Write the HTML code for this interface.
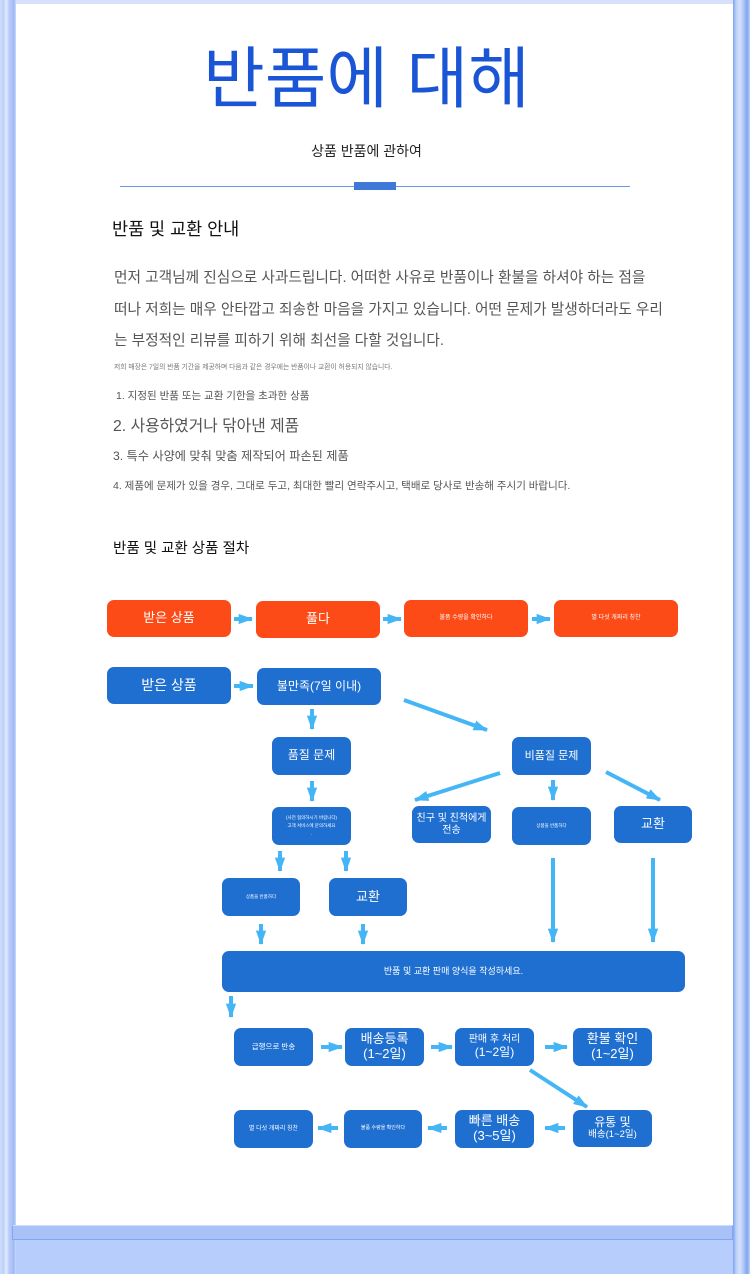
<!DOCTYPE html>
<html><head><meta charset="utf-8"><style>
*{margin:0;padding:0;box-sizing:border-box}
body{width:750px;height:1274px;position:relative;background:#b7cdfb;overflow:hidden;font-family:"Liberation Sans","Noto Sans CJK KR",sans-serif}
.a{position:absolute;white-space:nowrap}
.n{position:absolute;border-radius:7px;color:#fff;display:flex;flex-direction:column;align-items:center;justify-content:center;text-align:center;line-height:1.15;white-space:nowrap}
.o{background:#fc4b17}
.b{background:#1f6fd1}
</style></head><body>
<div class="a" style="left:0;top:0;width:16px;height:1274px;background:linear-gradient(90deg,#cfdcfb 0,#bcd0fa 4px,#e6eefe 6px,#b9cdfa 9px,#9fbaf5 14px,#cddbfb 16px)"></div>
<div class="a" style="left:733px;top:0;width:17px;height:1274px;background:linear-gradient(90deg,#7aa4ee 0,#b9cdfa 3px,#d5e1fc 7px,#a9c2f7 11px,#7ea6ee 14px,#c0d3fb 17px)"></div>
<div class="a" style="left:16px;top:0;width:717px;height:4px;background:#d6e2fc"></div>
<div class="a" style="left:16px;top:4px;width:717px;height:1221px;background:#fff"></div>
<div class="a" style="left:12px;top:1225px;width:721px;height:15px;background:#a8c2f8;border:1px solid #7fa6ee;border-top-color:#cfdcfb"></div>

<div class="a" style="left:0;top:40px;width:733px;text-align:center;font-size:67px;color:#1a55d6;line-height:80px">반품에 대해</div>
<div class="a" style="left:0;top:141px;width:733px;text-align:center;font-size:14px;color:#222">상품 반품에 관하여</div>
<div class="a" style="left:120px;top:186px;width:510px;height:1px;background:#6a95df"></div>
<div class="a" style="left:354px;top:182px;width:42px;height:8px;background:#3f78d8"></div>

<div class="a" style="left:112px;top:216px;font-size:17.5px;color:#111">반품 및 교환 안내</div>
<div class="a" style="left:114px;top:263px;font-size:14.7px;color:#555;line-height:31.5px">먼저 고객님께 진심으로 사과드립니다. 어떠한 사유로 반품이나 환불을 하셔야 하는 점을<br>떠나 저희는 매우 안타깝고 죄송한 마음을 가지고 있습니다. 어떤 문제가 발생하더라도 우리<br>는 부정적인 리뷰를 피하기 위해 최선을 다할 것입니다.</div>
<div class="a" style="left:114px;top:361px;font-size:6.8px;color:#777">저희 매장은 7일의 반품 기간을 제공하며 다음과 같은 경우에는 반품이나 교환이 허용되지 않습니다.</div>
<div class="a" style="left:116px;top:388px;font-size:10.5px;color:#555">1. 지정된 반품 또는 교환 기한을 초과한 상품</div>
<div class="a" style="left:113px;top:413px;font-size:15.8px;color:#555">2. 사용하였거나 닦아낸 제품</div>
<div class="a" style="left:113px;top:446px;font-size:12.2px;color:#555">3. 특수 사양에 맞춰 맞춤 제작되어 파손된 제품</div>
<div class="a" style="left:113px;top:478px;font-size:10.5px;color:#555">4. 제품에 문제가 있을 경우, 그대로 두고, 최대한 빨리 연락주시고, 택배로 당사로 반송해 주시기 바랍니다.</div>
<div class="a" style="left:113px;top:537px;font-size:14.5px;color:#111">반품 및 교환 상품 절차</div>

<div class="n o" style="left:107px;top:600px;width:124px;height:37px;font-size:13px">받은 상품</div>
<div class="n o" style="left:256px;top:601px;width:124px;height:37px;font-size:13px">풀다</div>
<div class="n o" style="left:404px;top:600px;width:124px;height:37px;font-size:6px">불품 수량을 확인하다</div>
<div class="n o" style="left:554px;top:600px;width:124px;height:37px;font-size:6px">별 다섯 개짜리 칭찬</div>

<div class="n b" style="left:107px;top:667px;width:124px;height:37px;font-size:14px">받은 상품</div>
<div class="n b" style="left:257px;top:668px;width:124px;height:37px;font-size:12px">불만족(7일 이내)</div>
<div class="n b" style="left:272px;top:737px;width:79px;height:38px;font-size:12px">품질 문제</div>
<div class="n b" style="left:512px;top:737px;width:79px;height:38px;font-size:11px">비품질 문제</div>
<div class="n b" style="left:272px;top:807px;width:79px;height:38px;font-size:4.5px;line-height:1.8"><div>(사전 협의하시기 바랍니다)</div><div>고객 서비스에 문의하세요</div><div>.</div></div>
<div class="n b" style="left:412px;top:806px;width:79px;height:37px;font-size:10px"><div>친구 및 친척에게</div><div>전송</div></div>
<div class="n b" style="left:512px;top:807px;width:79px;height:38px;font-size:4.5px">상품을 반품하다</div>
<div class="n b" style="left:614px;top:806px;width:78px;height:37px;font-size:13px">교환</div>
<div class="n b" style="left:222px;top:878px;width:78px;height:38px;font-size:4.5px">상품을 반품하다</div>
<div class="n b" style="left:329px;top:878px;width:78px;height:38px;font-size:13px">교환</div>
<div class="n b" style="left:222px;top:951px;width:463px;height:41px;font-size:9px">반품 및 교환 판매 양식을 작성하세요.</div>

<div class="n b" style="left:234px;top:1028px;width:79px;height:38px;font-size:7.5px">급행으로 반송</div>
<div class="n b" style="left:345px;top:1028px;width:79px;height:38px;font-size:13px"><div>배송등록</div><div>(1~2일)</div></div>
<div class="n b" style="left:455px;top:1028px;width:79px;height:38px;font-size:10px"><div>판매 후 처리</div><div style="font-size:12px">(1~2일)</div></div>
<div class="n b" style="left:573px;top:1028px;width:79px;height:38px;font-size:13px"><div>환불 확인</div><div>(1~2일)</div></div>
<div class="n b" style="left:234px;top:1110px;width:79px;height:38px;font-size:6px">별 다섯 개짜리 칭찬</div>
<div class="n b" style="left:344px;top:1110px;width:78px;height:38px;font-size:5px">불품 수량을 확인하다</div>
<div class="n b" style="left:455px;top:1110px;width:79px;height:38px;font-size:13px"><div>빠른 배송</div><div>(3~5일)</div></div>
<div class="n b" style="left:573px;top:1110px;width:79px;height:37px;font-size:12px"><div>유통 및</div><div style="font-size:9.5px">배송(1~2일)</div></div>

<svg class="a" style="left:0;top:0" width="750" height="1274" viewBox="0 0 750 1274">
<defs><marker id="m" viewBox="0 0 14 10" refX="13" refY="5" markerWidth="3.6" markerHeight="3" orient="auto"><path d="M0,0L14,5L0,10z" fill="#45b6f5"/></marker></defs>
<g stroke="#45b6f5" stroke-width="4" fill="none" marker-end="url(#m)">
<path d="M234 619H252"/><path d="M383 619H401"/><path d="M532 619H550"/>
<path d="M234 686H253"/>
<path d="M312 709V729"/><path d="M312 781V801"/>
<path d="M280 851V871"/><path d="M346 851V871"/>
<path d="M261 924V944"/><path d="M363 924V944"/>
<path d="M553 780V800"/>
<path d="M553 858V942"/><path d="M653 858V942"/>
<path d="M231 996V1017"/>
<path d="M404 700L487 730"/>
<path d="M500 773L415 800"/>
<path d="M606 772L660 800"/>
<path d="M321 1047H342"/><path d="M431 1047H452"/><path d="M545 1047H567"/>
<path d="M530 1070L587 1107"/>
<path d="M565 1128H545"/><path d="M447 1128H428"/><path d="M338 1128H318"/>
</g></svg>
</body></html>
